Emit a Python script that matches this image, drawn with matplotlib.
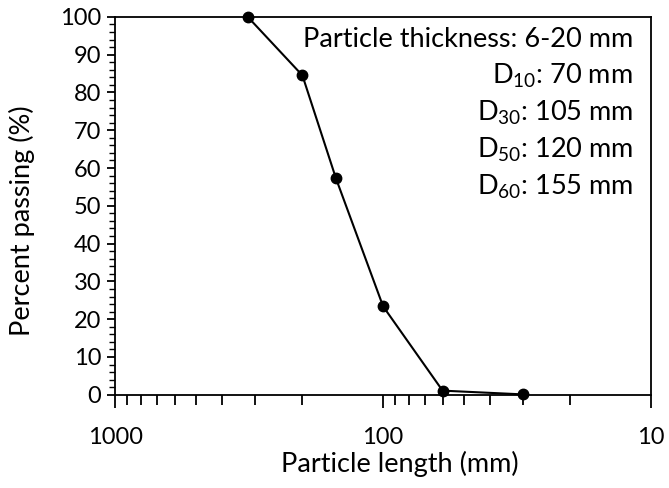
import numpy as np
import matplotlib
matplotlib.use("Agg")
from matplotlib import pyplot as plt
from matplotlib.ticker import FixedLocator, NullFormatter, MultipleLocator

# sieve data
length_mm = [320, 200, 150, 100, 60, 30]
passing_pct = [100, 84.5, 57.3, 23.4, 1.1, 0.1]

info_lines = [
    "Particle thickness: 6-20 mm",
    "D$_{10}$: 70 mm",
    "D$_{30}$: 105 mm",
    "D$_{50}$: 120 mm",
    "D$_{60}$: 155 mm",
]

plt.rcParams['font.family'] = ['Lato', 'DejaVu Sans']
plt.rcParams['mathtext.fontset'] = 'custom'
plt.rcParams['mathtext.rm'] = 'Lato'
plt.rcParams['mathtext.default'] = 'rm'

fig = plt.figure(figsize=(6.69, 4.88), dpi=100)
ax = fig.add_axes([0.172, 0.191, 0.8013, 0.7745])

ax.plot(length_mm, passing_pct, color='black', lw=1.5,
        marker='o', ms=7.5, clip_on=False, zorder=3)

ax.set_xscale('log')
ax.set_xlim(1000, 10)
ax.set_ylim(0, 100)

ax.xaxis.set_major_locator(FixedLocator([1000, 100, 10]))
ax.set_xticklabels(["1000", "100", "10"])
minors = [m * d for d in (10, 100) for m in range(2, 10)]
ax.xaxis.set_minor_locator(FixedLocator(minors))
ax.xaxis.set_minor_formatter(NullFormatter())
ax.yaxis.set_major_locator(MultipleLocator(10))
ax.yaxis.set_minor_locator(MultipleLocator(2))

ax.tick_params(axis='both', which='major', labelsize=17, width=1.3, direction='out', colors='black')
ax.tick_params(axis='x', which='major', length=9, pad=14)
ax.tick_params(axis='y', which='major', length=6, pad=4)
ax.tick_params(axis='x', which='minor', length=7, width=1.3)
ax.tick_params(axis='y', which='minor', length=4, width=1.0)

for s in ax.spines.values():
    s.set_linewidth(1.3)
    s.set_color('black')

ax.set_xlabel("Particle length (mm)", fontsize=19.5)
ax.set_ylabel("Percent passing (%)", fontsize=19.5)
ax.xaxis.set_label_coords(0.532, -0.148)
ax.yaxis.set_label_coords(-0.149, 0.46)

for i, line in enumerate(info_lines):
    ax.text(0.966, 0.921 - i * 0.0979, line, transform=ax.transAxes,
            ha='right', va='baseline', fontsize=19.5)

fig.savefig("out.png", dpi=100)
